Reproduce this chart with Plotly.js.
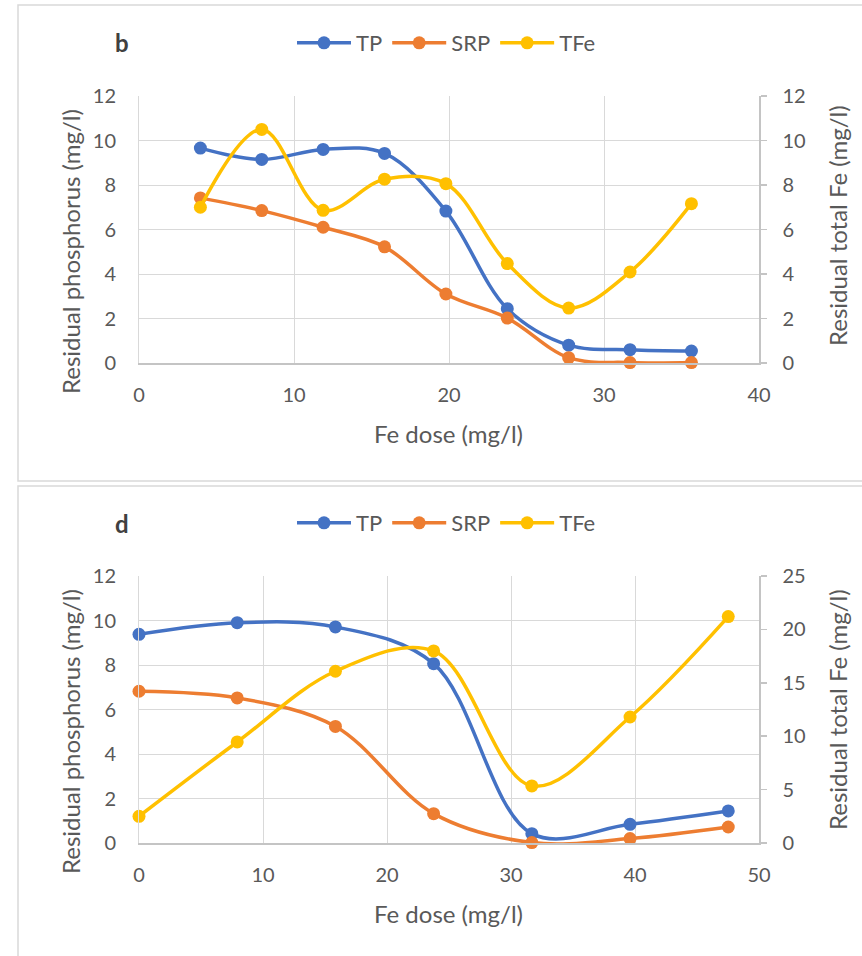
<!DOCTYPE html>
<html>
<head>
<meta charset="utf-8">
<script src="https://cdn.plot.ly/plotly-3.0.1.min.js"></script>
<style>html,body{margin:0;padding:0;background:#fff;}#chart{width:862px;height:956px;}</style>
</head>
<body>
<div id="chart"></div>
<script>
// Panel b data
const doseB = [3.96, 7.92, 11.88, 15.84, 19.8, 23.76, 27.72, 31.68, 35.64];
const tpB   = [9.66, 9.15, 9.6, 9.42, 6.83, 2.44, 0.8, 0.6, 0.54];
const srpB  = [7.42, 6.85, 6.1, 5.22, 3.1, 2.02, 0.24, 0.02, 0.02];
const tfeB  = [7.0, 10.5, 6.86, 8.26, 8.06, 4.47, 2.47, 4.09, 7.16];
// Panel d data
const doseD = [0, 7.92, 15.84, 23.76, 31.68, 39.6, 47.52];
const tpD   = [9.38, 9.9, 9.71, 8.06, 0.42, 0.84, 1.44];
const srpD  = [6.82, 6.52, 5.24, 1.32, 0.02, 0.2, 0.72];
const tfeD  = [2.5, 9.46, 16.08, 17.98, 5.34, 11.8, 21.2];

const seriesNames = ['TP', 'SRP', 'TFe'];
const colors = ['#4472C4', '#ED7D31', '#FFC000'];

const W = 862, H = 956;
const X = px => px / W;
const Y = py => 1 - py / H;
const FONT = 'Lato, "Open Sans", sans-serif';
const TXT = '#595959';

function tr(x, y, i, xa, ya, leg) {
  return {
    x: x, y: y, name: seriesNames[i], type: 'scatter', mode: 'lines+markers',
    xaxis: xa, yaxis: ya, legend: leg, showlegend: true,
    line: {color: colors[i], width: 3.5, shape: 'spline', smoothing: 1},
    marker: {color: colors[i], size: 13},
    cliponaxis: false
  };
}

const data = [
  tr(doseB, tpB, 0, 'x', 'y', 'legend'),
  tr(doseB, srpB, 1, 'x', 'y', 'legend'),
  tr(doseB, tfeB, 2, 'x', 'y2', 'legend'),
  tr(doseD, tpD, 0, 'x2', 'y3', 'legend2'),
  tr(doseD, srpD, 1, 'x2', 'y3', 'legend2'),
  tr(doseD, tfeD, 2, 'x2', 'y4', 'legend2')
];

const tickfont = {family: FONT, size: 20, color: TXT};
function xax(range, dom, anchor) {
  return {domain: dom, anchor: anchor, range: range, dtick: 10, tick0: 0,
    showgrid: true, gridcolor: '#d9d9d9', gridwidth: 1, zeroline: false,
    showline: true, linecolor: '#c4c4c4', linewidth: 1.5, ticks: '',
    ticklabelstandoff: 13, tickfont: tickfont, fixedrange: true};
}
function yaxL(range, dtick, dom, anchor) {
  return {domain: dom, anchor: anchor, range: range, dtick: dtick, tick0: 0,
    showgrid: true, gridcolor: '#d9d9d9', gridwidth: 1, zeroline: false,
    showline: true, linecolor: '#d9d9d9', linewidth: 1, ticks: '',
    ticklabelstandoff: 18, tickfont: tickfont, fixedrange: true};
}
function yaxR(range, dtick, over, anchor) {
  return {overlaying: over, side: 'right', anchor: anchor, range: range, dtick: dtick, tick0: 0,
    showgrid: false, zeroline: false, showline: true, linecolor: '#c4c4c4', linewidth: 1.5,
    ticks: 'outside', ticklen: 6, tickcolor: '#c4c4c4', tickwidth: 1.5,
    ticklabelstandoff: 12, tickfont: tickfont, fixedrange: true};
}

const domX = [X(139), X(759)];
const domYb = [Y(363), Y(96)];
const domYd = [Y(843), Y(576)];

function ann(text, px, py, opts) {
  return Object.assign({text: text, x: X(px), y: Y(py), xref: 'paper', yref: 'paper',
    showarrow: false, xanchor: 'center', yanchor: 'middle',
    font: {family: FONT, size: 24, color: TXT}}, opts || {});
}

const legendCommon = {orientation: 'h', xanchor: 'left', yanchor: 'middle',
  font: {family: FONT, size: 22, color: TXT}, bgcolor: 'rgba(0,0,0,0)',
  itemclick: false, itemdoubleclick: false, traceorder: 'normal',
  itemwidth: 54, itemgap: 28};

const layout = {
  width: W, height: H, margin: {l: 0, r: 0, t: 0, b: 0},
  paper_bgcolor: '#fff', plot_bgcolor: '#fff',
  font: {family: FONT, color: TXT},
  xaxis: xax([0, 40], domX, 'y'),
  yaxis: yaxL([0, 12], 2, domYb, 'x'),
  yaxis2: yaxR([0, 12], 2, 'y', 'x'),
  xaxis2: xax([0, 50], domX, 'y3'),
  yaxis3: yaxL([0, 12], 2, domYd, 'x2'),
  yaxis4: yaxR([0, 25], 5, 'y3', 'x2'),
  legend: Object.assign({x: X(292), y: Y(43)}, legendCommon),
  legend2: Object.assign({x: X(292), y: Y(523)}, legendCommon),
  shapes: [
    {type: 'rect', xref: 'paper', yref: 'paper', x0: X(18), x1: X(880), y0: Y(481), y1: Y(5),
     line: {color: '#d9d9d9', width: 1.5}, fillcolor: 'rgba(0,0,0,0)', layer: 'below'},
    {type: 'rect', xref: 'paper', yref: 'paper', x0: X(18), x1: X(880), y0: Y(990), y1: Y(486),
     line: {color: '#d9d9d9', width: 1.5}, fillcolor: 'rgba(0,0,0,0)', layer: 'below'}
  ],
  annotations: [
    ann('<b>b</b>', 122, 43, {font: {family: FONT, size: 24, color: '#404040'}}),
    ann('<b>d</b>', 122, 523, {font: {family: FONT, size: 24, color: '#404040'}}),
    ann('Fe dose (mg/l)', 449, 433),
    ann('Fe dose (mg/l)', 449, 913),
    ann('Residual phosphorus (mg/l)', 70, 252, {textangle: -90}),
    ann('Residual phosphorus (mg/l)', 70, 732, {textangle: -90}),
    ann('Residual total Fe (mg/l)', 837, 226, {textangle: -90}),
    ann('Residual total Fe (mg/l)', 837, 710, {textangle: -90})
  ]
};

Plotly.newPlot('chart', data, layout, {displayModeBar: false, staticPlot: true});
</script>
</body>
</html>
